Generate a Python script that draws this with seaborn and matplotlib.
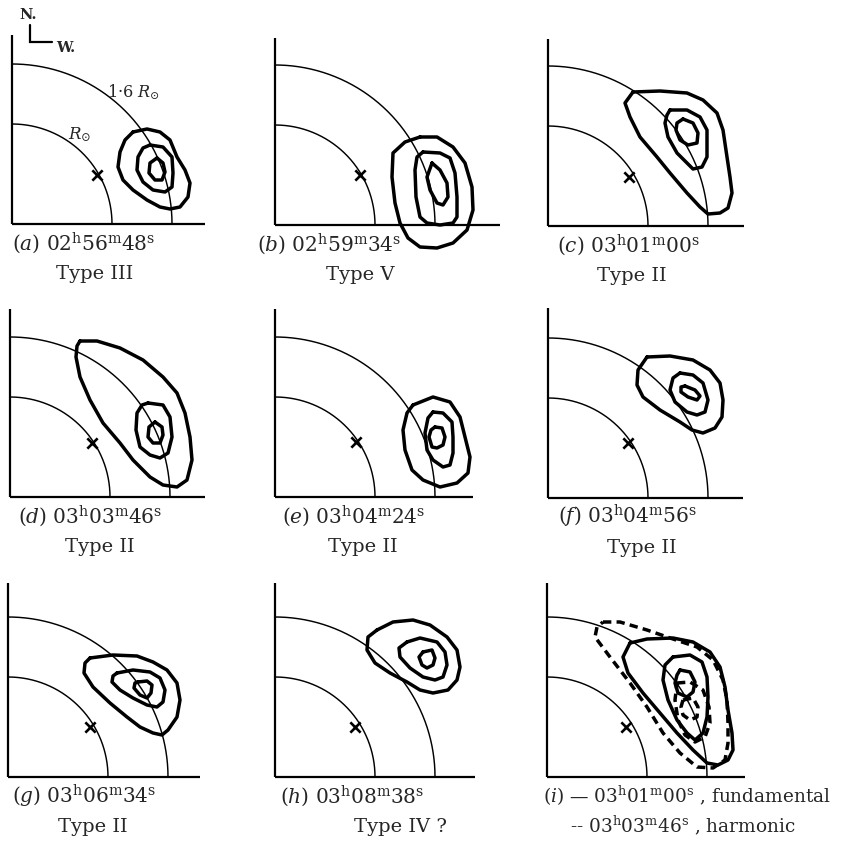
import matplotlib
matplotlib.use("Agg")
import numpy as np
import pandas as pd
import matplotlib.pyplot as plt
import seaborn as sns

# Radii of the reference circles, in solar radii
RADII = [1.0, 1.6]

# Contour rings (x, y in solar radii; x towards W., y towards N.)
A_OUTER = [(1.21, 0.92), (1.35, 0.95), (1.48, 0.92), (1.58, 0.84), (1.65, 0.67), (1.73, 0.54),
           (1.78, 0.41), (1.76, 0.27), (1.68, 0.17), (1.58, 0.15), (1.48, 0.17), (1.35, 0.24),
           (1.21, 0.34), (1.11, 0.44), (1.06, 0.57), (1.08, 0.72), (1.13, 0.84)]
A_MID = [(1.38, 0.79), (1.51, 0.77), (1.60, 0.67), (1.61, 0.51), (1.60, 0.37), (1.53, 0.32),
         (1.41, 0.34), (1.31, 0.42), (1.25, 0.54), (1.26, 0.67), (1.31, 0.76)]
A_INNER = [(1.45, 0.66), (1.51, 0.61), (1.53, 0.52), (1.50, 0.44), (1.43, 0.44), (1.37, 0.51),
           (1.38, 0.61)]

B_OUTER = [(1.45, 0.88), (1.62, 0.88), (1.78, 0.78), (1.90, 0.62), (1.97, 0.38), (1.98, 0.15),
           (1.92, -0.05), (1.78, -0.18), (1.62, -0.23), (1.45, -0.22), (1.33, -0.13), (1.25, 0.02),
           (1.20, 0.22), (1.17, 0.48), (1.18, 0.72), (1.30, 0.83)]
B_MID = [(1.48, 0.73), (1.65, 0.72), (1.75, 0.67), (1.80, 0.52), (1.82, 0.28), (1.82, 0.08),
         (1.78, 0.02), (1.65, 0.00), (1.52, 0.02), (1.45, 0.08), (1.41, 0.28), (1.40, 0.55),
         (1.42, 0.68)]
B_INNER = [(1.57, 0.62), (1.65, 0.55), (1.72, 0.42), (1.73, 0.28), (1.68, 0.20), (1.62, 0.22),
           (1.55, 0.35), (1.52, 0.48)]

C_OUTER = [(0.85, 1.34), (1.12, 1.35), (1.39, 1.33), (1.55, 1.26), (1.69, 1.13), (1.75, 0.96),
           (1.79, 0.69), (1.82, 0.49), (1.84, 0.33), (1.80, 0.18), (1.72, 0.13), (1.60, 0.12),
           (1.52, 0.19), (1.39, 0.33), (1.22, 0.53), (1.09, 0.69), (0.92, 0.89), (0.82, 1.09),
           (0.77, 1.23)]
C_MID = [(1.22, 1.16), (1.39, 1.16), (1.52, 1.09), (1.59, 0.96), (1.59, 0.83), (1.59, 0.69),
         (1.54, 0.59), (1.45, 0.57), (1.39, 0.63), (1.29, 0.73), (1.20, 0.89), (1.17, 1.03),
         (1.19, 1.11)]
C_INNER = [(1.35, 1.07), (1.45, 1.03), (1.50, 0.93), (1.49, 0.83), (1.40, 0.81), (1.32, 0.86),
           (1.28, 0.96), (1.29, 1.03)]

D_OUTER = [(0.70, 1.56), (0.87, 1.56), (1.10, 1.49), (1.33, 1.37), (1.53, 1.20), (1.67, 1.04),
           (1.75, 0.84), (1.80, 0.60), (1.82, 0.37), (1.77, 0.17), (1.67, 0.10), (1.53, 0.12),
           (1.40, 0.20), (1.23, 0.37), (1.10, 0.54), (0.93, 0.74), (0.80, 0.97), (0.70, 1.20),
           (0.66, 1.40), (0.67, 1.51)]
D_MID = [(1.38, 0.94), (1.53, 0.92), (1.60, 0.80), (1.62, 0.60), (1.58, 0.44), (1.50, 0.39),
         (1.40, 0.42), (1.30, 0.50), (1.26, 0.67), (1.27, 0.84), (1.32, 0.92)]
D_INNER = [(1.45, 0.75), (1.52, 0.70), (1.53, 0.62), (1.50, 0.54), (1.43, 0.54), (1.38, 0.60),
           (1.39, 0.70)]

E_OUTER = [(1.38, 0.92), (1.58, 1.00), (1.75, 0.95), (1.85, 0.80), (1.90, 0.60), (1.95, 0.40),
           (1.93, 0.24), (1.82, 0.14), (1.65, 0.10), (1.48, 0.17), (1.37, 0.27), (1.30, 0.47),
           (1.28, 0.67), (1.32, 0.84)]
E_MID = [(1.58, 0.85), (1.68, 0.84), (1.77, 0.75), (1.78, 0.60), (1.78, 0.44), (1.75, 0.32),
         (1.68, 0.30), (1.58, 0.37), (1.52, 0.47), (1.50, 0.64), (1.53, 0.79)]
E_INNER = [(1.60, 0.70), (1.67, 0.69), (1.70, 0.60), (1.68, 0.52), (1.62, 0.49), (1.57, 0.50),
           (1.54, 0.60), (1.56, 0.67)]

F_OUTER = [(0.99, 1.41), (1.22, 1.42), (1.45, 1.38), (1.62, 1.28), (1.72, 1.15), (1.75, 0.98),
           (1.74, 0.81), (1.67, 0.70), (1.55, 0.65), (1.44, 0.68), (1.32, 0.76), (1.12, 0.88),
           (0.95, 1.01), (0.89, 1.13), (0.90, 1.28)]
F_MID = [(1.32, 1.25), (1.45, 1.23), (1.55, 1.15), (1.60, 0.98), (1.57, 0.86), (1.49, 0.83),
         (1.39, 0.86), (1.27, 0.96), (1.22, 1.08), (1.25, 1.20)]
F_INNER = [(1.37, 1.12), (1.47, 1.08), (1.52, 1.02), (1.49, 0.98), (1.40, 1.01), (1.33, 1.06),
           (1.33, 1.11)]

G_OUTER = [(0.82, 1.19), (1.05, 1.22), (1.29, 1.21), (1.45, 1.15), (1.59, 1.07), (1.69, 0.94),
           (1.72, 0.77), (1.69, 0.60), (1.60, 0.47), (1.54, 0.42), (1.45, 0.44), (1.32, 0.50),
           (1.19, 0.60), (1.02, 0.74), (0.85, 0.90), (0.76, 1.04), (0.77, 1.14)]
G_MID = [(1.09, 1.04), (1.25, 1.07), (1.42, 1.05), (1.52, 0.99), (1.57, 0.87), (1.55, 0.75),
         (1.49, 0.70), (1.39, 0.72), (1.25, 0.79), (1.12, 0.87), (1.04, 0.95), (1.05, 1.01)]
G_INNER = [(1.30, 0.95), (1.39, 0.96), (1.44, 0.92), (1.43, 0.84), (1.39, 0.79), (1.32, 0.82),
           (1.26, 0.89), (1.27, 0.94)]

H_OUTER = [(1.02, 1.47), (1.18, 1.55), (1.38, 1.57), (1.55, 1.52), (1.72, 1.40), (1.82, 1.27),
           (1.85, 1.10), (1.82, 0.97), (1.73, 0.87), (1.58, 0.84), (1.45, 0.87), (1.32, 0.95),
           (1.15, 1.04), (1.00, 1.14), (0.92, 1.27), (0.93, 1.40)]
H_MID = [(1.32, 1.35), (1.45, 1.39), (1.62, 1.35), (1.70, 1.25), (1.72, 1.12), (1.68, 1.00),
         (1.60, 0.97), (1.48, 1.00), (1.35, 1.09), (1.25, 1.20), (1.24, 1.29)]
H_INNER = [(1.48, 1.25), (1.57, 1.27), (1.60, 1.19), (1.58, 1.12), (1.52, 1.09), (1.47, 1.12),
           (1.44, 1.20)]

# (i): fundamental (solid) and harmonic (dashed) overlaid
I_FUND_OUTER = [(0.83, 1.34), (1.00, 1.38), (1.26, 1.39), (1.46, 1.35), (1.63, 1.25), (1.73, 1.10),
                (1.78, 0.90), (1.81, 0.67), (1.85, 0.44), (1.86, 0.27), (1.81, 0.17), (1.71, 0.12),
                (1.60, 0.14), (1.46, 0.27), (1.30, 0.44), (1.13, 0.64), (0.96, 0.84), (0.81, 1.04),
                (0.76, 1.20)]
I_FUND_MID = [(1.26, 1.20), (1.43, 1.22), (1.55, 1.15), (1.60, 1.00), (1.61, 0.80), (1.60, 0.60),
              (1.56, 0.44), (1.48, 0.37), (1.40, 0.44), (1.30, 0.57), (1.21, 0.77), (1.16, 0.97),
              (1.18, 1.12)]
I_FUND_INNER = [(1.33, 1.07), (1.43, 1.05), (1.48, 0.95), (1.46, 0.85), (1.40, 0.80), (1.31, 0.84),
                (1.28, 0.94), (1.30, 1.02)]
I_HARM_OUTER = [(0.56, 1.55), (0.73, 1.55), (1.00, 1.47), (1.26, 1.38), (1.50, 1.30), (1.66, 1.17),
                (1.76, 0.97), (1.80, 0.77), (1.81, 0.54), (1.81, 0.34), (1.78, 0.17), (1.66, 0.09),
                (1.50, 0.10), (1.33, 0.24), (1.16, 0.44), (1.00, 0.70), (0.83, 0.94), (0.63, 1.20),
                (0.48, 1.40), (0.50, 1.50)]
I_HARM_MID = [(1.30, 0.94), (1.43, 0.95), (1.56, 0.87), (1.62, 0.70), (1.63, 0.54), (1.58, 0.40),
              (1.48, 0.35), (1.38, 0.42), (1.31, 0.57), (1.28, 0.77)]
I_HARM_INNER = [(1.36, 0.77), (1.46, 0.79), (1.51, 0.70), (1.50, 0.60), (1.43, 0.57), (1.36, 0.62),
                (1.34, 0.70)]

# Position of the marked point (x) in each panel
MARKS = {"a": (0.85, 0.49), "b": (0.85, 0.50), "c": (0.81, 0.49),
         "d": (0.82, 0.54), "e": (0.81, 0.55), "f": (0.80, 0.55),
         "g": (0.82, 0.50), "h": (0.80, 0.50), "i": (0.79, 0.50)}

CAPTIONS = {
    "a": (r"$(\mathit{a})\ \mathrm{02^{h}56^{m}48^{s}}$", "Type III"),
    "b": (r"$(\mathit{b})\ \mathrm{02^{h}59^{m}34^{s}}$", "Type V"),
    "c": (r"$(\mathit{c})\ \mathrm{03^{h}01^{m}00^{s}}$", "Type II"),
    "d": (r"$(\mathit{d})\ \mathrm{03^{h}03^{m}46^{s}}$", "Type II"),
    "e": (r"$(\mathit{e})\ \mathrm{03^{h}04^{m}24^{s}}$", "Type II"),
    "f": (r"$(\mathit{f})\ \mathrm{03^{h}04^{m}56^{s}}$", "Type II"),
    "g": (r"$(\mathit{g})\ \mathrm{03^{h}06^{m}34^{s}}$", "Type II"),
    "h": (r"$(\mathit{h})\ \mathrm{03^{h}08^{m}38^{s}}$", "Type IV ?"),
}
LEGEND_I = (r"$(\mathit{i})$ — $\mathrm{03^{h}01^{m}00^{s}}$ , fundamental",
            r"-- $\mathrm{03^{h}03^{m}46^{s}}$ , harmonic")

# Layout: panel origin in pixels, axis-line extents, caption centres (pixels)
LAYOUT = {
    "a": dict(origin=(12, 224), xend=1.93, ytop=1.89, c1=84, c2=95),
    "b": dict(origin=(275, 225), xend=2.25, ytop=1.87, c1=329, c2=360),
    "c": dict(origin=(548, 226), xend=1.96, ytop=1.87, c1=628, c2=632),
    "d": dict(origin=(10, 497), xend=1.95, ytop=1.88, c1=90, c2=100),
    "e": dict(origin=(275, 497), xend=1.98, ytop=1.88, c1=354, c2=363),
    "f": dict(origin=(548, 498), xend=1.95, ytop=1.90, c1=627, c2=642),
    "g": dict(origin=(8, 777), xend=1.92, ytop=1.94, c1=84, c2=93),
    "h": dict(origin=(275, 777), xend=2.00, ytop=1.94, c1=352, c2=400),
    "i": dict(origin=(547, 777), xend=1.98, ytop=1.94),
}

SOLID = {"a": [A_OUTER, A_MID, A_INNER], "b": [B_OUTER, B_MID, B_INNER],
         "c": [C_OUTER, C_MID, C_INNER], "d": [D_OUTER, D_MID, D_INNER],
         "e": [E_OUTER, E_MID, E_INNER], "f": [F_OUTER, F_MID, F_INNER],
         "g": [G_OUTER, G_MID, G_INNER], "h": [H_OUTER, H_MID, H_INNER],
         "i": [I_FUND_OUTER, I_FUND_MID, I_FUND_INNER]}
DASHED = {"i": [I_HARM_OUTER, I_HARM_MID, I_HARM_INNER]}

sns.set_theme(style="white")
plt.rcParams["font.family"] = ["DejaVu Serif"]
plt.rcParams["mathtext.fontset"] = "dejavuserif"

W, H = 842, 848
fig = plt.figure(figsize=(W / 100, H / 100), dpi=100)
fig.patch.set_facecolor("white")

XLIM = (-0.12, 2.30)
YLIM = (-0.30, 2.22)
PX = 100.0  # pixels per solar radius


def rings_frame(rings):
    rows = []
    for k, ring in enumerate(rings):
        closed = list(ring) + [ring[0]]
        for j, (x, y) in enumerate(closed):
            rows.append({"x": x, "y": y, "ring": k, "order": j})
    return pd.DataFrame(rows)


theta = np.linspace(0, np.pi / 2, 200)
circles = pd.concat([pd.DataFrame({"x": r * np.cos(theta), "y": r * np.sin(theta), "ring": i})
                     for i, r in enumerate(RADII)], ignore_index=True)

for key, lay in LAYOUT.items():
    ox, oy = lay["origin"]
    left = ox + XLIM[0] * PX
    top = oy - YLIM[1] * PX
    wpx = (XLIM[1] - XLIM[0]) * PX
    hpx = (YLIM[1] - YLIM[0]) * PX
    ax = fig.add_axes([left / W, 1 - (top + hpx) / H, wpx / W, hpx / H])
    ax.set_facecolor("none")

    # frame: limb circles and the two axis lines
    sns.lineplot(data=circles, x="x", y="y", units="ring", estimator=None, sort=False,
                 color="black", linewidth=1.05, ax=ax, legend=False)
    ax.plot([0, 0], [0, lay["ytop"]], color="black", lw=1.6, solid_capstyle="butt")
    ax.plot([0, lay["xend"]], [0, 0], color="black", lw=1.6, solid_capstyle="butt")

    sns.lineplot(data=rings_frame(SOLID[key]), x="x", y="y", units="ring", estimator=None,
                 sort=False, color="black", linewidth=2.5, ax=ax, legend=False,
                 solid_joinstyle="round", solid_capstyle="round")
    if key in DASHED:
        sns.lineplot(data=rings_frame(DASHED[key]), x="x", y="y", units="ring", estimator=None,
                     sort=False, color="black", linewidth=2.5, ax=ax, legend=False,
                     linestyle=(0, (2.4, 1.5)), dash_joinstyle="round", dash_capstyle="butt")

    mx, my = MARKS[key]
    sns.scatterplot(x=[mx], y=[my], marker="x", s=55, color="black", linewidth=1.9, ax=ax,
                    legend=False, zorder=5)

    if key == "a":
        ax.text(0.95, 1.32, r"1·6 $R_{\odot}$", fontsize=11.5, ha="left", va="center")
        ax.text(0.56, 0.89, r"$R_{\odot}$", fontsize=12, ha="left", va="center")
        ax.text(0.16, 2.09, "N.", fontsize=10.5, fontweight="bold", ha="center", va="center")
        ax.plot([0.18, 0.18, 0.40], [1.99, 1.82, 1.82], color="black", lw=1.6,
                solid_joinstyle="miter")
        ax.text(0.44, 1.76, "W.", fontsize=10.5, fontweight="bold", ha="left", va="center")

    ax.set_xlim(*XLIM)
    ax.set_ylim(*YLIM)
    ax.set_axis_off()

    if key in CAPTIONS:
        cap1, cap2 = CAPTIONS[key]
        fig.text(lay["c1"] / W, 1 - (oy + 26) / H, cap1, fontsize=14.5, ha="center",
                 va="baseline")
        fig.text(lay["c2"] / W, 1 - (oy + 55) / H, cap2, fontsize=14, ha="center",
                 va="baseline")

ox, oy = LAYOUT["i"]["origin"]
fig.text(543 / W, 1 - (oy + 26) / H, LEGEND_I[0], fontsize=13.3, ha="left", va="baseline")
fig.text(570 / W, 1 - (oy + 55) / H, LEGEND_I[1], fontsize=13.3, ha="left", va="baseline")

fig.savefig("out.png", dpi=100, facecolor="white")
